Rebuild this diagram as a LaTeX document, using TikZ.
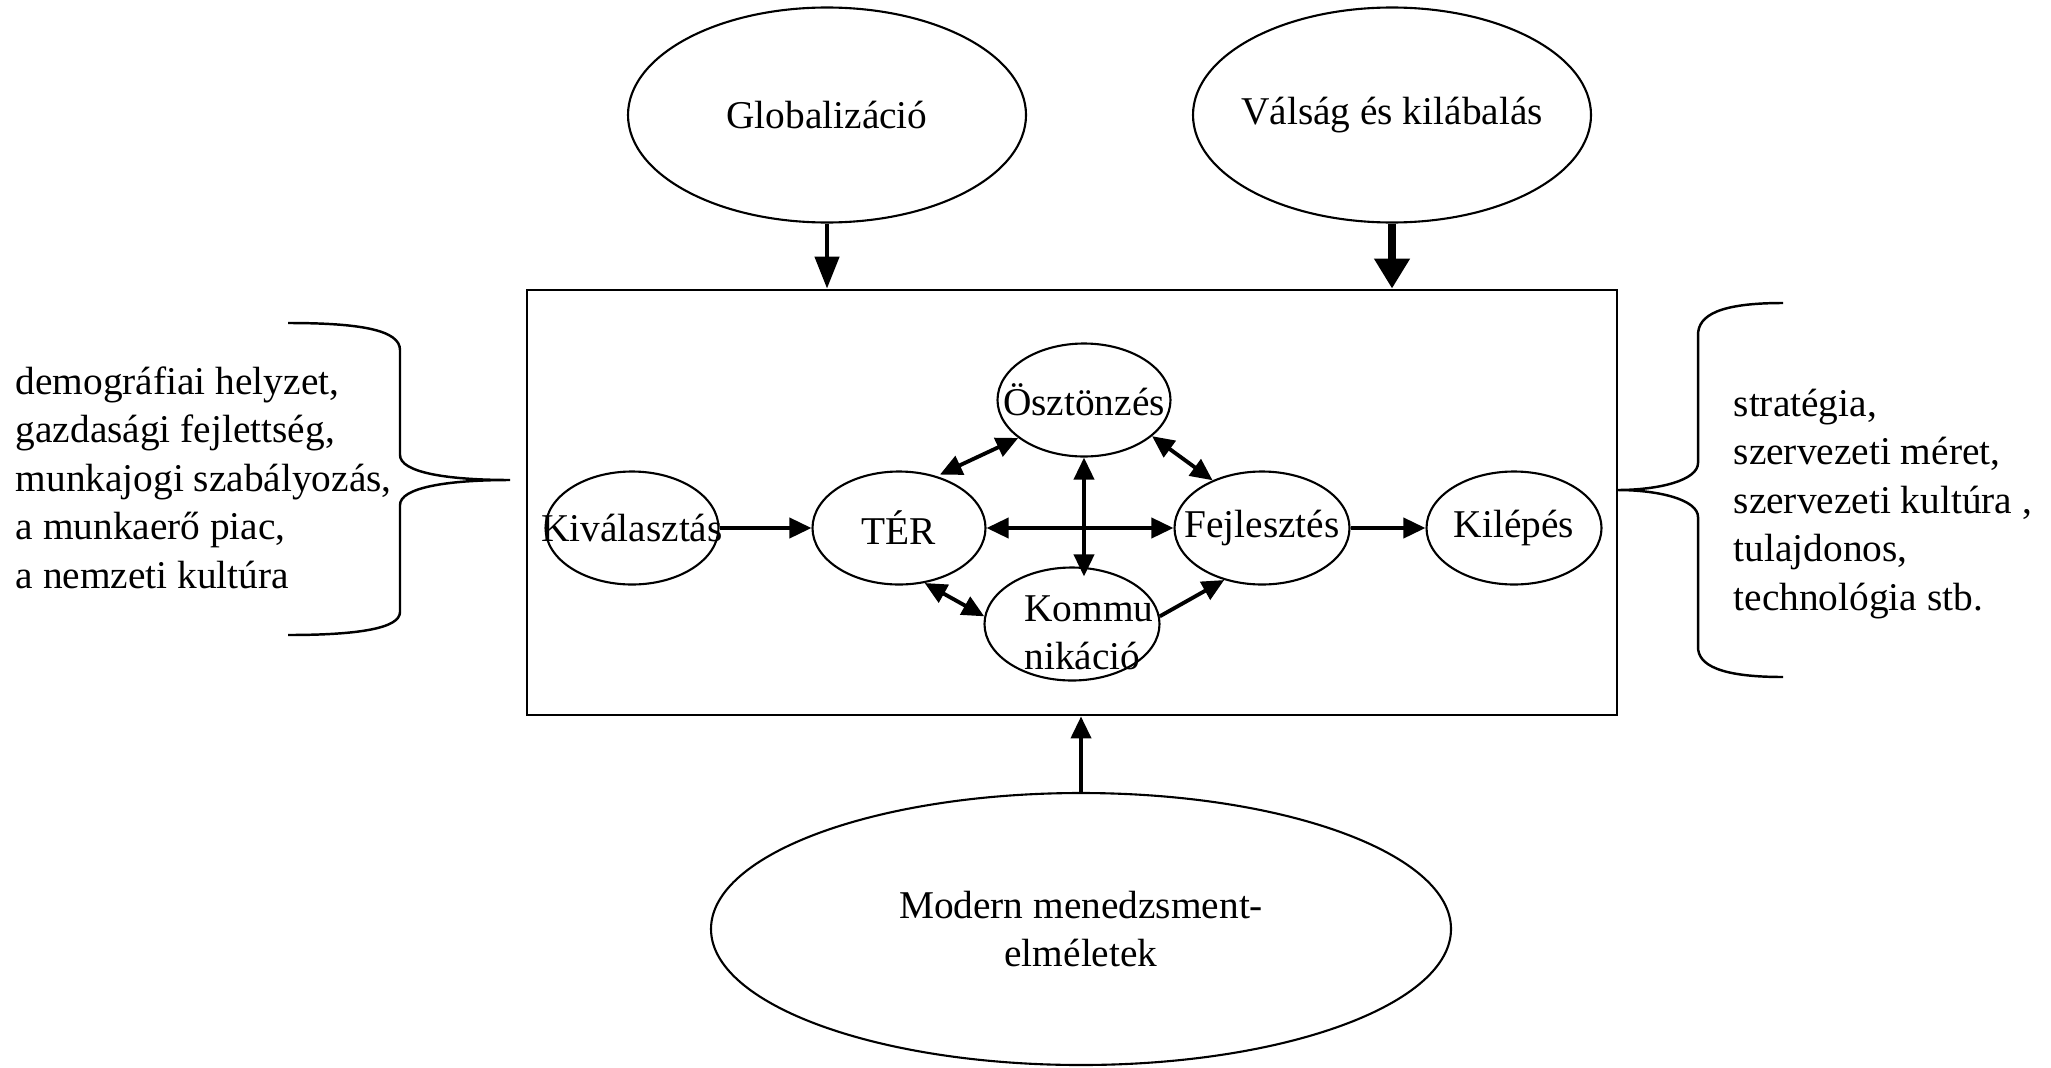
\documentclass[tikz,border=0pt]{standalone}
\usepackage{fontspec}
\setmainfont{Liberation Serif}
\usetikzlibrary{shapes.geometric,arrows.meta}

\begin{document}
\begin{tikzpicture}[
      x=0.1mm, y=-0.1mm,
      font=\fontsize{11.2}{13.8}\selectfont,
      oval/.style={ellipse, draw, line width=0.6pt, inner sep=0pt},
      small oval/.style={oval, minimum width=17.3mm, minimum height=11.3mm},
      big oval/.style={oval, minimum width=39.8mm, minimum height=21.5mm},
      link/.style={line width=1.1pt, -{Triangle[length=2.2mm,width=2mm]}},
      twoway/.style={line width=1.1pt, {Triangle[length=2.2mm,width=2mm]}-{Triangle[length=2.2mm,width=2mm]}},
      brace/.style={line width=0.7pt},
      list/.style={anchor=north west, inner sep=0pt, align=left}]
    \useasboundingbox (0,0) rectangle (2051,1067);
    \node[draw, line width=0.8pt, inner sep=0pt, minimum width=109mm, minimum height=42.5mm] (frame) at (1072,502.5) {};
    \node[big oval, label=center:Globalizáció] (glob) at (827,115) {};
    \node[big oval, label=center:Válság és kilábalás] (valsag) at (1392,115) {};
    \node[oval, minimum width=74mm, minimum height=27.2mm,
          label={[align=center]center:Modern menedzsment-\\elméletek}] (modern) at (1081,929) {};
    \node[small oval, label=center:Kiválasztás] (kiv) at (632,528) {};
    \node[small oval, label=center:TÉR] (ter) at (899,528) {};
    \node[small oval, minimum width=17.5mm, label=center:Fejlesztés] (fejl) at (1262,528) {};
    \node[small oval, minimum width=17.5mm, label=center:Kilépés] (kil) at (1514,528) {};
    \node[small oval, label=center:Ösztönzés] (oszt) at (1084,400) {};
    \node[small oval, minimum width=17.5mm,
          label={[align=left, xshift=1.7mm, yshift=-0.9mm]center:Kommu\\nikáció}] (komm) at (1072,624) {};
    \node[list] (kulso) at (15,366) {demográfiai helyzet,\\gazdasági fejlettség,\\munkajogi szabályozás,\\a munkaerő piac,\\a nemzeti kultúra};
    \node[list] (belso) at (1733,388) {stratégia,\\szervezeti méret,\\szervezeti kultúra ,\\tulajdonos,\\technológia stb.};

    \draw[line width=1.3pt, -{Triangle[length=3.2mm,width=2.4mm]}] (glob) -- (glob |- frame.north);
    \draw[line width=2.2pt, -{Triangle[length=3mm,width=3.4mm]}] (valsag) -- (valsag |- frame.north);
    \draw[link] (modern) -- (modern |- frame.south);

    \draw[link] (kiv) -- (ter);
    \draw[twoway] (ter) -- (fejl);
    \draw[link] (fejl) -- (kil);
    \draw[twoway, shorten <=1pt] (ter.54) -- (oszt.210);
    \draw[twoway] (oszt.-28) -- (fejl.136);
    \draw[twoway, shorten >=-1mm] (oszt.south) -- (oszt.south |- komm.north);
    \draw[twoway] (ter.-65) -- (komm.175);
    \draw[link] (komm.5) -- (fejl.-126);

    \draw[brace] (288,323) .. controls (360,323) and (400,330) .. (400,350) -- (400,455)
      .. controls (400,472) and (445,480) .. (510,480)
      .. controls (445,480) and (400,488) .. (400,505) -- (400,612)
      .. controls (400,628) and (360,635) .. (288,635);
    \draw[brace] (1783,303) .. controls (1720,303) and (1698,315) .. (1698,335) -- (1698,463)
      .. controls (1698,480) and (1660,490) .. (1617,490)
      .. controls (1660,490) and (1698,500) .. (1698,517) -- (1698,647)
      .. controls (1698,665) and (1720,677) .. (1783,677);
\end{tikzpicture}
\end{document}
